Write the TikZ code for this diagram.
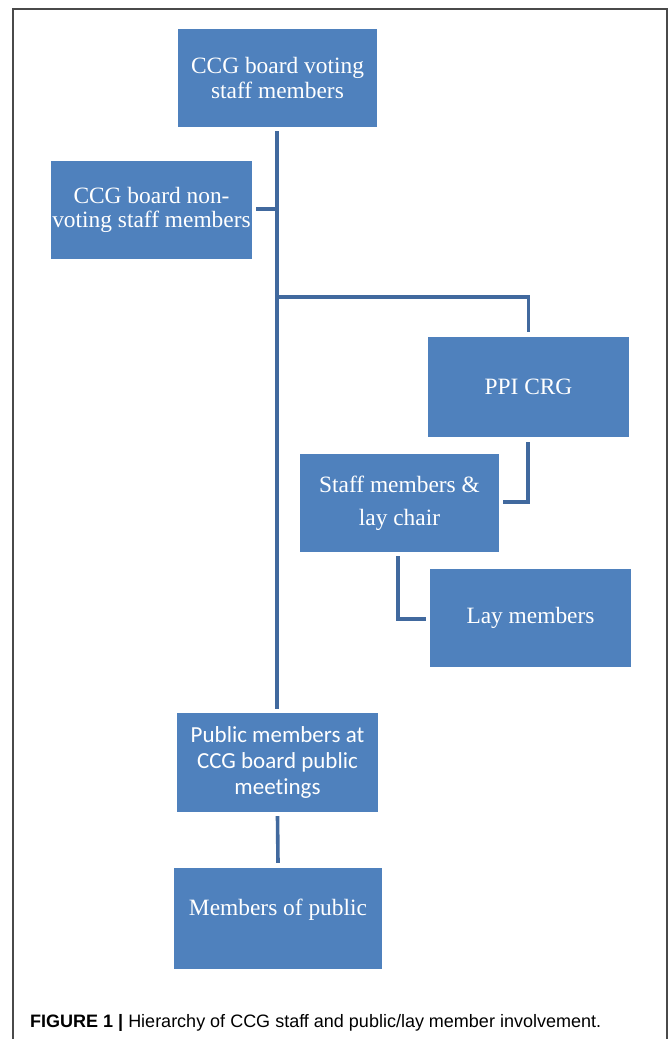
\documentclass[tikz,border=0pt]{standalone}
\usepackage{fontspec}
\setmainfont{Liberation Serif}
\newfontfamily\calfont[Ligatures=NoCommon]{Carlito}
\newfontfamily\capfont{Liberation Sans}
\definecolor{boxblue}{HTML}{4F81BD}
\definecolor{linkblue}{HTML}{41699E}
\definecolor{framegray}{HTML}{4A4A4A}
\begin{document}
\begin{tikzpicture}[x=1pt,y=-1pt,
  blk/.style={fill=boxblue, draw=none, text=white, inner sep=0pt, align=center,
    font=\fontsize{23.4}{24.5}\selectfont},
  link/.style={draw=linkblue, line width=3.6pt},
  caption/.style={inner sep=0pt, anchor=base west, font=\capfont\fontsize{18}{20}\selectfont}]
\useasboundingbox (0,0) rectangle (669,1039);
\fill[white] (0,0) rectangle (669,1039);
\draw[framegray, line width=1.3pt] (13,1045) -- (13,9) -- (667,9) -- (667,1045);

\node[blk, minimum width=199pt, minimum height=98pt] (voting) at (277.5,78) {CCG board voting\\staff members};
\node[blk, minimum width=201pt, minimum height=98pt] (nonvoting) at (151.5,210) {CCG board non-\\voting\ staff members};
\node[blk, minimum width=201pt, minimum height=100pt] (ppi) at (528.5,387) {PPI CRG};
\node[blk, minimum width=199pt, minimum height=98pt, font=\fontsize{23.4}{33}\selectfont] (staff) at (399.5,503) {Staff members \&\\lay chair};
\node[blk, minimum width=201pt, minimum height=98pt] (lay) at (530.5,618) {Lay members};
\node[blk, minimum width=201pt, minimum height=99pt, font=\calfont\fontsize{23}{26}\selectfont] (public) at (277.5,762.5) {Public members at\\CCG board public\\meetings};
\node[blk, minimum width=208pt, minimum height=101pt, text height=15pt, text depth=22pt] (mop) at (278,918.5) {Members of public};

% connectors
\coordinate (tt) at (277,131);
\coordinate (tb) at (277,709);
\coordinate (tn) at (277,209);
\coordinate (tp) at (277,297);
\draw[link] ([yshift=-4pt]voting.south -| tt) -- ([yshift=4pt]public.north -| tb);
\draw[link] ([xshift=4pt]nonvoting.east |- tn) -- (tn);
\draw[link, line join=miter] (tp) -- (tp -| ppi.north) -- ([yshift=5pt]ppi.north);
\coordinate (sj) at (528,502);
\draw[link, line join=miter] ([yshift=-5pt]ppi.south -| sj) -- (sj) -- ([xshift=4pt]staff.east |- sj);
\coordinate (lj) at (398,619);
\draw[link, line join=miter] ([yshift=-4pt]staff.south -| lj) -- (lj) -- ([xshift=-4pt]lay.west |- lj);
\draw[link] ([yshift=-4pt]public.south) -- ([yshift=5pt]mop.north);

\node[caption] (cap) at (30,1027.5) {\textbf{FIGURE 1 |} Hierarchy of CCG staff and public/lay member involvement.};
\end{tikzpicture}
\end{document}
